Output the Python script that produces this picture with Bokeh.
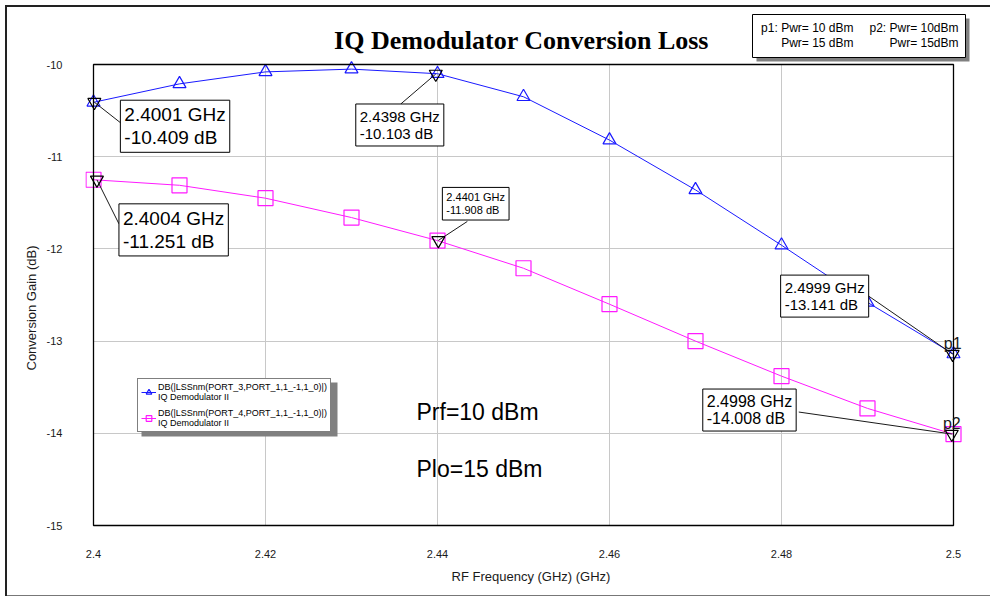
from bokeh.plotting import figure
from bokeh.models import Range1d, FixedTicker, Label, BoxAnnotation, Legend, LegendItem, Title
from bokeh.embed import file_html
from bokeh.resources import INLINE

# ---------------- data ----------------
freq_ghz = [2.40, 2.41, 2.42, 2.43, 2.44, 2.45, 2.46, 2.47, 2.48, 2.49, 2.50]
gain_port3_db = [-10.41, -10.21, -10.08, -10.05, -10.10, -10.35, -10.82, -11.36, -11.96, -12.58, -13.14]
gain_port4_db = [-11.25, -11.31, -11.45, -11.66, -11.91, -12.21, -12.60, -13.00, -13.38, -13.73, -14.01]

marker_freq = [2.4001, 2.4398, 2.4004, 2.4401, 2.4999, 2.4998]
marker_db = [-10.409, -10.103, -11.251, -11.908, -13.141, -14.008]
marker_tags = ["", "", "", "", "p1", "p2"]

x_ticks = [2.40, 2.42, 2.44, 2.46, 2.48, 2.50]
x_tick_labels = ["2.4", "2.42", "2.44", "2.46", "2.48", "2.5"]
y_ticks = [-15, -14, -13, -12, -11, -10]
y_tick_labels = ["-15", "-14", "-13", "-12", "-11", "-10"]

series_names = ["DB(|LSSnm(PORT_3,PORT_1,1_-1,1_0)|)\nIQ Demodulator II",
                "DB(|LSSnm(PORT_4,PORT_1,1_-1,1_0)|)\nIQ Demodulator II"]
title_text = "IQ Demodulator Conversion Loss"
x_label = "RF Frequency (GHz) (GHz)"
y_label = "Conversion Gain (dB)"
info_lines = ["p1: Pwr= 10 dBm", "Pwr= 15 dBm", "p2: Pwr= 10dBm", "Pwr= 15dBm"]
note_lines = ["Prf=10 dBm", "Plo=15 dBm"]

# ---------------- style / geometry ----------------
BLUE = "#1a1aff"
MAGENTA = "#ff1aff"
FONT = "Liberation Sans"
W, H = 990, 597
PXX = 8600.0   # px per GHz
PXY = 92.2     # px per dB
PAD = 8
X_LO, X_HI = x_ticks[0], x_ticks[-1]
Y_LO, Y_HI = y_ticks[0], y_ticks[-1]
IMG_X0, IMG_Y0 = 93, 64          # canvas px of (X_LO, Y_HI)
IMG_X1 = IMG_X0 + int(round((X_HI - X_LO) * PXX))   # 953
IMG_Y1 = IMG_Y0 + int(round((Y_HI - Y_LO) * PXY))   # 525
F_LEFT, F_TOP = IMG_X0 - PAD, 10
F_RIGHT, F_BOTTOM = 976, IMG_Y1 + PAD


def img_x(ix):
    return X_LO + (ix - IMG_X0) / PXX


def img_y(iy):
    return Y_HI - (iy - IMG_Y0) / PXY


p = figure(width=W, height=H,
           x_range=Range1d(img_x(F_LEFT), img_x(F_RIGHT)),
           y_range=Range1d(img_y(F_BOTTOM), img_y(F_TOP)),
           min_border_left=F_LEFT, min_border_right=W - F_RIGHT,
           min_border_top=F_TOP, min_border_bottom=H - F_BOTTOM,
           output_backend="svg", toolbar_location=None)
p.title_location = None
p.outline_line_color = None
p.background_fill_color = "white"
p.border_fill_color = None
# outer page frame (left, top and bottom rules) painted behind the transparent border area
p.styles = {
    "background": ("linear-gradient(#222,#222) 6px 5px / 2000px 2px no-repeat, "
                   "linear-gradient(#222,#222) 5px 5px / 2px 591px no-repeat, "
                   "linear-gradient(#777,#777) 5px 595px / 2000px 1px no-repeat, white"),
}

# axes
p.xaxis.ticker = FixedTicker(ticks=x_ticks)
p.yaxis.ticker = FixedTicker(ticks=y_ticks)
p.xaxis.major_label_overrides = dict(zip(x_ticks, x_tick_labels))
p.yaxis.major_label_overrides = dict(zip(y_ticks, y_tick_labels))
for ax in (p.xaxis[0], p.yaxis[0]):
    ax.axis_line_color = None
    ax.major_tick_line_color = None
    ax.minor_tick_line_color = None
    ax.major_tick_in = 0
    ax.major_tick_out = 0
    ax.major_label_text_font = FONT
    ax.major_label_text_font_size = "11px"
    ax.major_label_text_color = "#1a1a1a"
    ax.axis_label_text_font = FONT
    ax.axis_label_text_font_size = "13px"
    ax.axis_label_text_font_style = "normal"
    ax.axis_label_text_color = "#1a1a1a"
p.xaxis.axis_label = x_label
p.yaxis.major_label_standoff = 23
p.xaxis.major_label_standoff = 16
p.xaxis.axis_label_standoff = 8

# y axis title, placed along the data span
p.add_layout(Title(text=y_label, align="left", offset=F_BOTTOM - 370, standoff=10,
                   text_font=FONT, text_font_size="13px", text_font_style="normal",
                   text_color="#1a1a1a"), "left")

# grid
p.xgrid.ticker = FixedTicker(ticks=x_ticks)
p.ygrid.ticker = FixedTicker(ticks=y_ticks)
p.xgrid.cross_bounds = (Y_LO, Y_HI)
p.ygrid.cross_bounds = (X_LO, X_HI)
p.grid.grid_line_color = "#c8c8c8"
p.grid.grid_line_width = 1

# data series
l1 = p.line(freq_ghz, gain_port3_db, line_color=BLUE, line_width=1)
s1 = p.scatter(freq_ghz, gain_port3_db, marker="triangle", size=13, fill_color=None,
               line_color=BLUE, line_width=1.2)
l2 = p.line(freq_ghz, gain_port4_db, line_color=MAGENTA, line_width=1)
s2 = p.scatter(freq_ghz, gain_port4_db, marker="square", size=15, fill_color=None,
               line_color=MAGENTA, line_width=1.2)

# marker leaders & marker glyphs
# (box dx, box dy, leader dx, leader dy, font px, line height) in screen px, y downwards
box_style = [(26, -2, 28, 22, 19, 1.1), (-80, 30, -35, 30, 15, 1.0), (22, 24, 22, 44, 19, 1.1),
             (4, -53, 29, -19, 11, 1.05), (-172, -79, -84, -58, 15, 1.0),
             (-249, -45, -153, -22, 16, 1.0)]
x0s, y0s, x1s, y1s = [], [], [], []
for mx, my, st in zip(marker_freq, marker_db, box_style):
    x0s.append(mx)
    y0s.append(my)
    x1s.append(mx + st[2] / PXX)
    y1s.append(my - st[3] / PXY)
p.segment(x0=x0s, y0=y0s, x1=x1s, y1=y1s, line_color="#1a1a1a", line_width=1)
p.scatter(marker_freq, marker_db, marker="inverted_triangle", size=13, fill_color=None,
          line_color="black", line_width=1.2)

# plot frame drawn at the data limits
p.add_layout(BoxAnnotation(left=X_LO, right=X_HI, bottom=Y_LO, top=Y_HI, fill_alpha=0,
                           line_color="black", line_alpha=1, line_width=1.3))

# marker readout boxes
for mx, my, st in zip(marker_freq, marker_db, box_style):
    txt = f"{mx:.4f} GHz\n{my:.3f} dB"
    bx = mx + st[0] / PXX
    by = my - st[1] / PXY
    fs = f"{st[4]}px"
    p.add_layout(Label(x=bx, y=by, x_offset=4, y_offset=-4, text=txt, text_font=FONT,
                       text_font_size=fs, text_line_height=st[5], text_align="left",
                       text_baseline="top", text_alpha=0, background_fill_color="#808080",
                       padding=4))
    p.add_layout(Label(x=bx, y=by, text=txt, text_font=FONT, text_font_size=fs,
                       text_line_height=st[5], text_align="left", text_baseline="top",
                       text_color="black", background_fill_color="white",
                       border_line_color="black", border_line_width=1, padding=4))

for mx, my, tag in zip(marker_freq, marker_db, marker_tags):
    if tag:
        p.add_layout(Label(x=mx, y=my, y_offset=11, text=tag, text_font=FONT,
                           text_font_size="16px", text_align="center",
                           text_baseline="alphabetic", text_color="#1a1a1a"))

# notes
for i, t in enumerate(note_lines):
    p.add_layout(Label(x=img_x(416), y=img_y(411 + 57 * i), text=t, text_font=FONT,
                       text_font_size="23px", text_align="left", text_baseline="middle",
                       text_color="black"))

# title
p.add_layout(Label(x=img_x(521), y=img_y(40), text=title_text, text_font="Liberation Serif",
                   text_font_style="bold", text_font_size="26px", text_align="center",
                   text_baseline="middle", text_color="black"))

# info box (top right), canvas pixels
for (l, r, t, b, fc, lc) in [(756, 969, 18, 61, "#808080", None), (752, 965, 14, 57, "white", "black")]:
    p.add_layout(BoxAnnotation(left=l, right=r, top=t, bottom=b,
                               left_units="canvas", right_units="canvas",
                               top_units="canvas", bottom_units="canvas",
                               fill_color=fc, fill_alpha=1, line_color=lc, line_alpha=1,
                               line_width=1))
info_pos = [(853, 27), (853, 42), (958, 27), (958, 42)]
for t, (ix, iy) in zip(info_lines, info_pos):
    p.add_layout(Label(x=ix, y=iy, x_units="canvas", y_units="canvas", text=t, text_font=FONT,
                       text_font_size="12px", text_align="right", text_baseline="middle",
                       text_color="black"))

# legend with shadow
p.add_layout(BoxAnnotation(left=img_x(141), right=img_x(337), top=img_y(382), bottom=img_y(436),
                           fill_color="#808080", fill_alpha=1, line_color=None))
legend = Legend(items=[LegendItem(label=series_names[0], renderers=[l1, s1]),
                       LegendItem(label=series_names[1], renderers=[l2, s2])],
                location=(137 - F_LEFT, F_BOTTOM - 432),
                label_text_font=FONT, label_text_font_size="9px", label_text_color="black",
                glyph_width=15, glyph_height=14, label_standoff=2, spacing=6, padding=3,
                margin=0, border_line_color="black", border_line_width=1,
                background_fill_color="white", background_fill_alpha=1,
                label_height=10)
p.add_layout(legend)

open("out.html", "w").write(file_html(p, INLINE))
